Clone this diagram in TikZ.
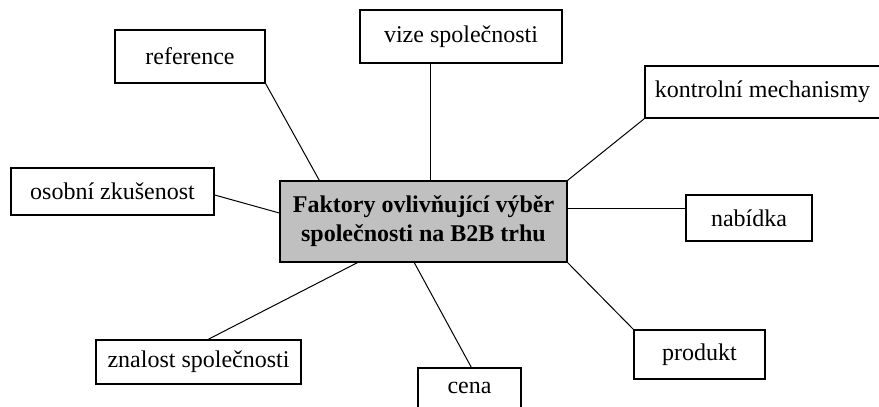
\documentclass[tikz,border=0pt]{standalone}
\usepackage{fontspec}
\setmainfont{Liberation Serif}
\usepackage{tikz}
\usetikzlibrary{positioning}
\definecolor{boxgray}{RGB}{192,192,192}

\begin{document}
\begin{tikzpicture}[x=0.5pt, y=-0.5pt,
    factor/.style={draw, line width=0.7pt, fill=white, inner sep=0pt, align=center, font=\fontsize{12}{14.5}\selectfont},
    link/.style={line width=0.5pt}]
    \useasboundingbox (0,0) rectangle (879,407);

    \node[factor, fill=boxgray, minimum width=143.5pt, minimum height=40.5pt, font=\fontsize{12}{14.5}\selectfont\bfseries] (factors) at (423.5,221.5) {Faktory ovlivňující výběr\\společnosti na B2B trhu};

    \node[factor, minimum width=75pt, minimum height=26.5pt] (reference) at (190,56.5) {reference};
    \node[factor, minimum width=101pt, minimum height=26.5pt] (vision) at (461,36.5) {vize společnosti};
    \node[factor, minimum width=117.5pt, minimum height=26pt] (control) at (762.5,92) {kontrolní mechanismy};
    \node[factor, minimum width=101.5pt, minimum height=23.5pt] (experience) at (112.5,191.5) {osobní zkušenost};
    \node[factor, minimum width=63pt, minimum height=23pt] (offer) at (749,218) {nabídka};
    \node[factor, minimum width=102.5pt, minimum height=22pt] (knowledge) at (198.5,362) {znalost společnosti};
    \node[factor, minimum width=51.5pt, minimum height=20pt] (price) at (469.5,388) {cena};
    \node[factor, minimum width=65.5pt, minimum height=24.5pt] (product) at (699.5,354.5) {produkt};

    \draw[link] (reference.south east) -- ([xshift=20pt]factors.north west);
    \draw[link] ([xshift=-15.5pt]vision.south) -- ([xshift=-15.5pt]vision.south |- factors.north);
    \draw[link] (control.south west) -- (factors.north east);
    \draw[link] ([yshift=-1.75pt]experience.east) -- ([yshift=4.25pt]factors.west);
    \draw[link] ([yshift=5pt]offer.west) -- ([yshift=5pt]offer.west -| factors.east);
    \draw[link] ([xshift=39pt]factors.south west) -- ([xshift=56.5pt]knowledge.north west);
    \draw[link] ([xshift=67.5pt]factors.south west) -- ([xshift=27pt]price.north west);
    \draw[link] (factors.south east) -- (product.north west);
\end{tikzpicture}
\end{document}
